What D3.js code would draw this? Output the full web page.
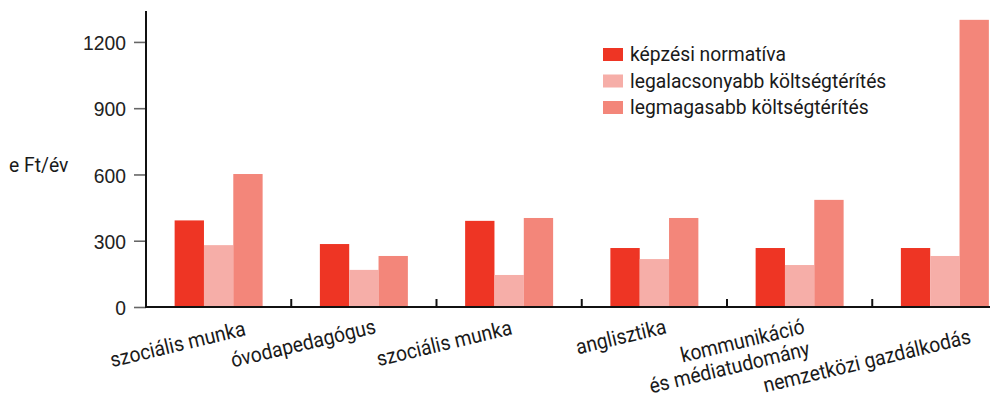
<!DOCTYPE html>
<html>
<head>
<meta charset="utf-8">
<script src="https://cdn.jsdelivr.net/npm/d3@7"></script>
<style>
  body { margin: 0; background: #fff; }
  svg { display: block; font-family: Roboto, "Noto Sans", sans-serif; }
</style>
</head>
<body>
<div id="chart"></div>
<script>
// categories (multi-line labels split with \n)
const categories = [
    "szociális munka",
    "óvodapedagógus",
    "szociális munka ",
    "anglisztika",
    "kommunikáció\nés médiatudomány",
    "nemzetközi gazdálkodás"
];
const seriesNames = ["képzési normatíva", "legalacsonyabb költségtérítés", "legmagasabb költségtérítés"];
const normativa = [392, 285, 390, 267, 267, 267];
const legalacsonyabb = [280, 168, 145, 217, 190, 231];
const legmagasabb = [602, 231, 403, 403, 485, 1300];
const yTicks = [0, 300, 600, 900, 1200];
const colors = ["#ee3524", "#f6aea8", "#f3867a"];

const series = [normativa, legalacsonyabb, legmagasabb];

const width = 990, height = 401;
const margin = { top: 11, left: 146, bottom: 94 };
const plotBottom = height - margin.bottom;
const fontSize = 21, squeeze = 0.92;   // narrow look of the original typeface

const svg = d3.select("#chart")
    .append("svg")
    .attr("width", width)
    .attr("height", height);

// scales
const x0 = d3.scaleBand()
    .domain(categories)
    .range([margin.left, margin.left + 145.25 * categories.length])
    .padding(0);

const x1 = d3.scaleBand()
    .domain(d3.range(series.length))
    .range([0, x0.bandwidth()])
    .paddingInner(0)
    .paddingOuter(0.976);

const y = d3.scaleLinear()
    .domain([0, 1340])
    .range([plotBottom, margin.top]);

// bars
const groups = svg.append("g")
    .selectAll("g")
    .data(categories)
    .join("g")
    .attr("transform", (d) => `translate(${x0(d)},0)`);

groups.selectAll("rect")
    .data((d, i) => series.map((s, k) => ({ k: k, value: s[i] })))
    .join("rect")
    .attr("x", (d) => x1(d.k))
    .attr("y", (d) => y(d.value))
    .attr("width", x1.bandwidth())
    .attr("height", (d) => plotBottom - y(d.value))
    .style("fill", (d) => colors[d.k]);

// y axis
const yAxis = svg.append("g")
    .attr("transform", `translate(${margin.left},0)`)
    .call(d3.axisLeft(y).tickValues(yTicks).tickSize(12).tickFormat(d3.format("d")));
yAxis.select(".domain").remove();
yAxis.selectAll(".tick line").style("stroke", "#666").style("stroke-width", 1.6);
yAxis.selectAll(".tick text")
    .attr("x", null)
    .attr("transform", `translate(-20,0) scale(${squeeze},1)`)
    .style("font-size", fontSize + "px")
    .style("fill", "#222")
    .attr("dy", "0.36em");

svg.append("line")
    .attr("x1", margin.left).attr("x2", margin.left)
    .attr("y1", margin.top).attr("y2", plotBottom + 1)
    .style("stroke", "#111")
    .style("stroke-width", 2);

// x axis line and category boundary ticks
svg.append("line")
    .attr("x1", margin.left).attr("x2", width)
    .attr("y1", plotBottom).attr("y2", plotBottom)
    .style("stroke", "#111")
    .style("stroke-width", 2);

svg.append("g")
    .selectAll("line")
    .data(categories.slice(1))
    .join("line")
    .attr("x1", (d) => x0(d)).attr("x2", (d) => x0(d))
    .attr("y1", plotBottom).attr("y2", plotBottom - 8)
    .style("stroke", "#111")
    .style("stroke-width", 2);

// category labels, rotated; small hand nudges like the original layout
const labelNudge = [[28, 2], [13, 0], [4, 1], [13, 0], [6, 0], [27, 10]];
const labels = svg.append("g")
    .selectAll("text")
    .data(categories)
    .join("text")
    .attr("transform", (d, i) => {
        const cx = x0(d) + x0.bandwidth() / 2 + labelNudge[i][0];
        const cy = plotBottom + 26 + labelNudge[i][1];
        return `translate(${cx},${cy}) rotate(-13.5) scale(${squeeze},1)`;
    })
    .attr("text-anchor", "end")
    .style("font-size", fontSize + "px")
    .style("fill", "#1a1a1a");

labels.selectAll("tspan")
    .data((d) => d.trim().split("\n"))
    .join("tspan")
    .attr("x", 0)
    .attr("dy", (d, i) => i === 0 ? 0 : "1.08em")
    .text((d) => d);

// y axis title
svg.append("text")
    .attr("transform", `translate(9,172) scale(${squeeze},1)`)
    .style("font-size", fontSize + "px")
    .style("fill", "#1a1a1a")
    .text("e Ft/év");

// legend
const legend = svg.append("g")
    .attr("transform", "translate(603,48)")
    .selectAll("g")
    .data(seriesNames)
    .join("g")
    .attr("transform", (d, i) => `translate(0,${i * 26.5})`);

legend.append("rect")
    .attr("width", 20)
    .attr("height", 13)
    .style("fill", (d, i) => colors[i]);

legend.append("text")
    .attr("transform", `translate(27,13) scale(${squeeze},1)`)
    .style("font-size", fontSize + "px")
    .style("fill", "#1a1a1a")
    .text((d) => d);
</script>
</body>
</html>
